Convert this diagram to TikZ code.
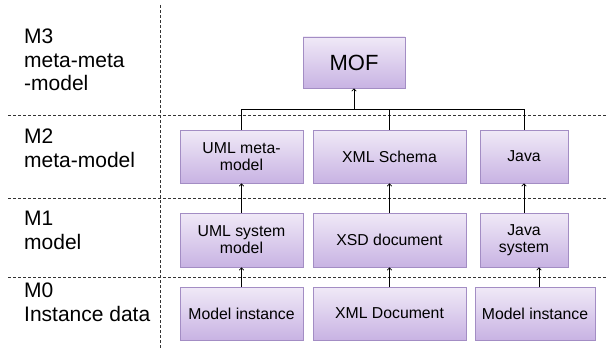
\documentclass[tikz,border=0pt]{standalone}
\usepackage{fontspec}
\setmainfont{Liberation Sans}
\usetikzlibrary{arrows.meta}
\definecolor{boxtop}{HTML}{F0E9F7}
\definecolor{boxbot}{HTML}{C8B3E3}
\definecolor{boxline}{HTML}{A38DC4}
\begin{document}
\begin{tikzpicture}[x=1pt,y=-1pt,
  box/.style={draw=boxline,line width=0.8pt,top color=boxtop,bottom color=boxbot,
    align=center,font=\fontsize{15.8}{17}\selectfont,inner sep=0pt},
  lvl/.style={anchor=north west,align=left,font=\fontsize{21}{23.5}\selectfont,inner sep=0pt},
  sep/.style={densely dashed,line width=0.6pt,black!80},
  conn/.style={line width=0.7pt},
  arr/.style={line width=0.7pt,-{To[length=3pt,width=5pt]}}]
\useasboundingbox (0,0) rectangle (607,350);
% separators
\draw[sep] (160,5) -- (160,350);
\draw[sep] (8,115) -- (607,115);
\draw[sep] (8,198) -- (607,198);
\draw[sep] (8,277) -- (607,277);
% level labels
\node[lvl] (l3) at (24,29) {M3\\meta-meta\\-model};
\node[lvl] (l2) at (24,129) {M2\\meta-model};
\node[lvl] (l1) at (24,211) {M1\\model};
\node[lvl] (l0) at (24,283) {M0\\Instance data};
% boxes
\node[box,minimum width=102pt,minimum height=51pt,font=\fontsize{22}{24}\selectfont] (mof) at (354,62.5) {MOF};
\node[box,minimum width=123pt,minimum height=53pt] (umlmm) at (241.5,156.5) {UML meta-\\model};
\node[box,minimum width=153pt,minimum height=53pt] (xsch) at (389.5,156.5) {XML Schema};
\node[box,minimum width=88pt,minimum height=53pt] (java) at (524,156.5) {Java};
\node[box,minimum width=123pt,minimum height=54pt] (umlsys) at (241.5,240) {UML system\\model};
\node[box,minimum width=153pt,minimum height=54pt] (xsd) at (389.5,240) {XSD document};
\node[box,minimum width=88pt,minimum height=54pt] (javasys) at (524,240) {Java\\system};
\node[box,minimum width=123pt,minimum height=53pt] (mi1) at (241.5,313.5) {Model instance};
\node[box,minimum width=153pt,minimum height=53pt] (xmld) at (389.5,313.5) {XML Document};
\node[box,minimum width=120pt,minimum height=53pt] (mi2) at (535,313.5) {Model instance};
% bus to MOF
\coordinate (bus) at (354,109);
\draw[conn] (umlmm.north) |- (bus);
\draw[conn] (xsch.north) |- (bus);
\draw[conn] (java.north) |- (bus);
\draw[arr] (bus) -- (mof.south);
% vertical arrows
\draw[arr] (umlsys.north) -- (umlmm.south);
\draw[arr] (xsd.north) -- (xsch.south);
\draw[arr] (javasys.north) -- (java.south);
\draw[arr] (mi1.north) -- (umlsys.south);
\draw[arr] (xmld.north) -- (xsd.south);
\draw[arr] ([xshift=4pt]mi2.north) -- ([xshift=15pt]javasys.south);
\end{tikzpicture}
\end{document}
